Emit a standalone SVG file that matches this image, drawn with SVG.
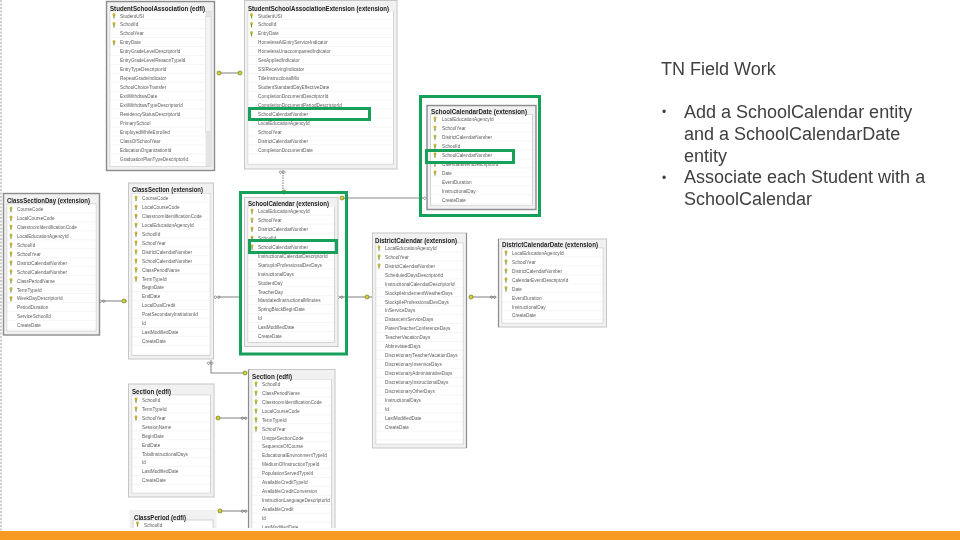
<svg xmlns="http://www.w3.org/2000/svg" width="960" height="540" viewBox="0 0 960 540">
<style>
text{font-family:"Liberation Sans",Arial,sans-serif}
.o{fill:#f1f1f1;stroke:#c6c6c6;stroke-width:1}
.d{fill:#f1f1f1;stroke:#8c8c8c;stroke-width:1.4}
.l{fill:#fff;stroke:#c4c4c4;stroke-width:.7}
.t{font-size:7px;font-weight:700;fill:#222}
.r{font-size:4.7px;fill:#5c5c5c}
.c{fill:none;stroke:#8a8a8a;stroke-width:1.1}
.g{fill:none;stroke:#16a05a;stroke-width:3}
.s{font-size:18px;fill:#404040}
.b{font-size:12px;fill:#404040}
</style>
<defs>
<pattern id="rows" patternUnits="userSpaceOnUse" width="10" height="8.95"><rect width="10" height="8.95" fill="#fff"/><rect y="8.4" width="10" height=".55" fill="#efefef"/></pattern>
<g id="k"><circle cx="0" cy="-1.2" r="1.5" fill="#c9b93c"/><path d="M-.6-.5h1.2v3.2h-1.2z" fill="#7f8f2f"/></g>
<g id="e"><circle r="2" fill="#d6d235" stroke="#6f7a20" stroke-width=".7"/></g>
<g id="m"><path d="M-2.5-1a1.2 1.2 0 1 0 .01 0zM.7-1a1.2 1.2 0 1 0 .01 0z" fill="none" stroke="#666" stroke-width=".7"/></g>
<filter id="soft" filterUnits="userSpaceOnUse" x="0" y="0" width="640" height="540"><feGaussianBlur stdDeviation=".38"/></filter>
</defs>
<rect width="960" height="540" fill="#fff"/>
<path d="M1 0V540" fill="none" stroke="#9a9a9a" stroke-width="1" stroke-dasharray="2 1.5"/>
<g filter="url(#soft)">
<g id="connectors">
<path class="c" d="M219 73H240"/><use href="#e" x="219" y="73"/><use href="#e" x="240" y="73"/>
<path class="c" d="M283 170V192" stroke-dasharray="1.5 1"/><use href="#m" x="283" y="172"/><use href="#e" x="284" y="192"/>
<path class="c" d="M341 198H420"/><use href="#e" x="342" y="198"/><use href="#m" x="424" y="198"/>
<path class="c" d="M340 297H372"/><use href="#m" x="341" y="297"/><use href="#e" x="367" y="297"/>
<path class="c" d="M470 297H496"/><use href="#e" x="471" y="297"/><use href="#m" x="494" y="297"/>
<path class="c" d="M102 301H127"/><use href="#m" x="103" y="301"/><use href="#e" x="124" y="301"/>
<path class="c" d="M218 297H240"/><use href="#m" x="218" y="297"/>
<path class="c" d="M211 360V373H246"/><use href="#m" x="211" y="363"/><use href="#e" x="245" y="373"/>
<path class="c" d="M216 418H247"/><use href="#e" x="218" y="418"/><use href="#m" x="245" y="418"/>
<path class="c" d="M218 511H247"/><use href="#e" x="220" y="511"/><use href="#m" x="245" y="511"/>
</g>
<g id="node-student-school-association" transform="translate(106.5,1.5)">
<rect class="d" width="108" height="169"/><rect class="l" x="3.5" y="10" width="101" height="155"/>
<rect transform="translate(4,9.7)" width="94" height="155" fill="url(#rows)"/>
<rect x="99" y="10" width="5.5" height="155" fill="#e4e4e4"/><rect x="99" y="15" width="5.5" height="115" fill="#f4f4f4" stroke="#ccc" stroke-width=".4"/>
<text class="t" x="3.5" y="9.3" textLength="95" lengthAdjust="spacingAndGlyphs">StudentSchoolAssociation (edfi)</text>
<use href="#k" x="7.5" y="14.2"/><use href="#k" x="7.5" y="23.2"/><use href="#k" x="7.5" y="41.1"/>
<text class="r" y="16"><tspan x="13.5">StudentUSI</tspan><tspan x="13.5" dy="8.95">SchoolId</tspan><tspan x="13.5" dy="8.95">SchoolYear</tspan><tspan x="13.5" dy="8.95">EntryDate</tspan><tspan x="13.5" dy="8.95">EntryGradeLevelDescriptorId</tspan><tspan x="13.5" dy="8.95">EntryGradeLevelReasonTypeId</tspan><tspan x="13.5" dy="8.95">EntryTypeDescriptorId</tspan><tspan x="13.5" dy="8.95">RepeatGradeIndicator</tspan><tspan x="13.5" dy="8.95">SchoolChoiceTransfer</tspan><tspan x="13.5" dy="8.95">ExitWithdrawDate</tspan><tspan x="13.5" dy="8.95">ExitWithdrawTypeDescriptorId</tspan><tspan x="13.5" dy="8.95">ResidencyStatusDescriptorId</tspan><tspan x="13.5" dy="8.95">PrimarySchool</tspan><tspan x="13.5" dy="8.95">EmployedWhileEnrolled</tspan><tspan x="13.5" dy="8.95">ClassOfSchoolYear</tspan><tspan x="13.5" dy="8.95">EducationOrganizationId</tspan><tspan x="13.5" dy="8.95">GraduationPlanTypeDescriptorId</tspan></text>
</g>
<g id="node-student-school-association-extension" transform="translate(244.5,.5)">
<rect class="o" width="152.5" height="168.5"/><rect class="l" x="3.5" y="11" width="145.5" height="153"/>
<rect transform="translate(4,10.7)" width="144.5" height="153" fill="url(#rows)"/>
<text class="t" x="3.5" y="10.3" textLength="141" lengthAdjust="spacingAndGlyphs">StudentSchoolAssociationExtension (extension)</text>
<use href="#k" x="7" y="15.2"/><use href="#k" x="7" y="24.2"/><use href="#k" x="7" y="33.1"/>
<text class="r" y="17"><tspan x="13.5">StudentUSI</tspan><tspan x="13.5" dy="8.95">SchoolId</tspan><tspan x="13.5" dy="8.95">EntryDate</tspan><tspan x="13.5" dy="8.95">HomelessAtEntryServiceIndicator</tspan><tspan x="13.5" dy="8.95">HomelessUnaccompaniedIndicator</tspan><tspan x="13.5" dy="8.95">SexAppliedIndicator</tspan><tspan x="13.5" dy="8.95">SSIReceivingIndicator</tspan><tspan x="13.5" dy="8.95">TitleInstructionalMix</tspan><tspan x="13.5" dy="8.95">StudentStandardDayEffectiveDate</tspan><tspan x="13.5" dy="8.95">CompletionDocumentDescriptorId</tspan><tspan x="13.5" dy="8.95">CompletionDocumentPeriodDescriptorId</tspan><tspan x="13.5" dy="8.95">SchoolCalendarNumber</tspan><tspan x="13.5" dy="8.95">LocalEducationAgencyId</tspan><tspan x="13.5" dy="8.95">SchoolYear</tspan><tspan x="13.5" dy="8.95">DistrictCalendarNumber</tspan><tspan x="13.5" dy="8.95">CompletionDocumentDate</tspan></text>
</g>
<g id="node-school-calendar-date" transform="translate(427,105.5)">
<rect class="d" width="109" height="104"/><rect class="l" x="3.5" y="9" width="102" height="91"/>
<rect transform="translate(4,9.2)" width="101" height="90.5" fill="url(#rows)"/>
<text class="t" x="4" y="8.3" textLength="96" lengthAdjust="spacingAndGlyphs">SchoolCalendarDate (extension)</text>
<use href="#k" x="8" y="13.7"/><use href="#k" x="8" y="22.7"/><use href="#k" x="8" y="31.6"/><use href="#k" x="8" y="40.6"/><use href="#k" x="8" y="49.5"/><use href="#k" x="8" y="58.5"/><use href="#k" x="8" y="67.4"/>
<text class="r" y="15.5"><tspan x="15">LocalEducationAgencyId</tspan><tspan x="15" dy="8.95">SchoolYear</tspan><tspan x="15" dy="8.95">DistrictCalendarNumber</tspan><tspan x="15" dy="8.95">SchoolId</tspan><tspan x="15" dy="8.95">SchoolCalendarNumber</tspan><tspan x="15" dy="8.95">CalendarEventDescriptorId</tspan><tspan x="15" dy="8.95">Date</tspan><tspan x="15" dy="8.95">EventDuration</tspan><tspan x="15" dy="8.95">InstructionalDay</tspan><tspan x="15" dy="8.95">CreateDate</tspan></text>
</g>
<g id="node-class-section-day" transform="translate(3.5,193.5)">
<rect class="d" width="96" height="141.5"/><rect class="l" x="3.5" y="10.5" width="89" height="127"/>
<rect transform="translate(4,11)" width="88" height="126" fill="url(#rows)"/>
<text class="t" x="3.5" y="9.3" textLength="83" lengthAdjust="spacingAndGlyphs">ClassSectionDay (extension)</text>
<use href="#k" x="7.5" y="15.7"/><use href="#k" x="7.5" y="24.7"/><use href="#k" x="7.5" y="33.6"/><use href="#k" x="7.5" y="42.6"/><use href="#k" x="7.5" y="51.5"/><use href="#k" x="7.5" y="60.5"/><use href="#k" x="7.5" y="69.4"/><use href="#k" x="7.5" y="78.4"/><use href="#k" x="7.5" y="87.3"/><use href="#k" x="7.5" y="96.3"/><use href="#k" x="7.5" y="105.2"/>
<text class="r" y="17.5"><tspan x="13.5">CourseCode</tspan><tspan x="13.5" dy="8.95">LocalCourseCode</tspan><tspan x="13.5" dy="8.95">ClassroomIdentificationCode</tspan><tspan x="13.5" dy="8.95">LocalEducationAgencyId</tspan><tspan x="13.5" dy="8.95">SchoolId</tspan><tspan x="13.5" dy="8.95">SchoolYear</tspan><tspan x="13.5" dy="8.95">DistrictCalendarNumber</tspan><tspan x="13.5" dy="8.95">SchoolCalendarNumber</tspan><tspan x="13.5" dy="8.95">ClassPeriodName</tspan><tspan x="13.5" dy="8.95">TermTypeId</tspan><tspan x="13.5" dy="8.95">WeekDayDescriptorId</tspan><tspan x="13.5" dy="8.95">PeriodDuration</tspan><tspan x="13.5" dy="8.95">ServiceSchoolId</tspan><tspan x="13.5" dy="8.95">CreateDate</tspan></text>
</g>
<g id="node-class-section" transform="translate(128.5,183)">
<rect class="o" width="85" height="176"/><rect class="l" x="3.5" y="10.5" width="78" height="162"/>
<rect transform="translate(4,10.6)" width="77" height="161" fill="url(#rows)"/>
<text class="t" x="3.5" y="9.3" textLength="71" lengthAdjust="spacingAndGlyphs">ClassSection (extension)</text>
<use href="#k" x="7.5" y="15.2"/><use href="#k" x="7.5" y="24.2"/><use href="#k" x="7.5" y="33.1"/><use href="#k" x="7.5" y="42.1"/><use href="#k" x="7.5" y="51"/><use href="#k" x="7.5" y="60"/><use href="#k" x="7.5" y="68.9"/><use href="#k" x="7.5" y="77.9"/><use href="#k" x="7.5" y="86.8"/><use href="#k" x="7.5" y="95.8"/>
<text class="r" y="17"><tspan x="13.5">CourseCode</tspan><tspan x="13.5" dy="8.95">LocalCourseCode</tspan><tspan x="13.5" dy="8.95">ClassroomIdentificationCode</tspan><tspan x="13.5" dy="8.95">LocalEducationAgencyId</tspan><tspan x="13.5" dy="8.95">SchoolId</tspan><tspan x="13.5" dy="8.95">SchoolYear</tspan><tspan x="13.5" dy="8.95">DistrictCalendarNumber</tspan><tspan x="13.5" dy="8.95">SchoolCalendarNumber</tspan><tspan x="13.5" dy="8.95">ClassPeriodName</tspan><tspan x="13.5" dy="8.95">TermTypeId</tspan><tspan x="13.5" dy="8.95">BeginDate</tspan><tspan x="13.5" dy="8.95">EndDate</tspan><tspan x="13.5" dy="8.95">LocalDualCredit</tspan><tspan x="13.5" dy="8.95">PostSecondaryInstitutionId</tspan><tspan x="13.5" dy="8.95">Id</tspan><tspan x="13.5" dy="8.95">LastModifiedDate</tspan><tspan x="13.5" dy="8.95">CreateDate</tspan></text>
</g>
<g id="node-school-calendar" transform="translate(244.5,197.5)">
<rect class="o" width="93.5" height="149"/><rect class="l" x="3.5" y="10" width="86.5" height="135"/>
<rect transform="translate(4,9.2)" width="85.5" height="135" fill="url(#rows)"/>
<text class="t" x="3.5" y="8.8" textLength="81" lengthAdjust="spacingAndGlyphs">SchoolCalendar (extension)</text>
<use href="#k" x="7.5" y="13.7"/><use href="#k" x="7.5" y="22.7"/><use href="#k" x="7.5" y="31.6"/><use href="#k" x="7.5" y="40.6"/><use href="#k" x="7.5" y="49.5"/>
<text class="r" y="15.5"><tspan x="13.5">LocalEducationAgencyId</tspan><tspan x="13.5" dy="8.95">SchoolYear</tspan><tspan x="13.5" dy="8.95">DistrictCalendarNumber</tspan><tspan x="13.5" dy="8.95">SchoolId</tspan><tspan x="13.5" dy="8.95">SchoolCalendarNumber</tspan><tspan x="13.5" dy="8.95">InstructionalCalendarDescriptorId</tspan><tspan x="13.5" dy="8.95">StartupInProfessionalDevDays</tspan><tspan x="13.5" dy="8.95">InstructionalDays</tspan><tspan x="13.5" dy="8.95">StudentDay</tspan><tspan x="13.5" dy="8.95">TeacherDay</tspan><tspan x="13.5" dy="8.95">MandatedInstructionalMinutes</tspan><tspan x="13.5" dy="8.95">SpringBlockBeginDate</tspan><tspan x="13.5" dy="8.95">Id</tspan><tspan x="13.5" dy="8.95">LastModifiedDate</tspan><tspan x="13.5" dy="8.95">CreateDate</tspan></text>
</g>
<g id="node-district-calendar" transform="translate(372.5,233)">
<rect class="o" width="94" height="215"/><rect class="l" x="3.5" y="10" width="87" height="201"/>
<rect transform="translate(4,10.5)" width="86" height="200" fill="url(#rows)"/>
<path d="M94 0V215" fill="none" stroke="#8c8c8c" stroke-width="1.2"/>
<text class="t" x="2.5" y="9.8" textLength="82" lengthAdjust="spacingAndGlyphs">DistrictCalendar (extension)</text>
<use href="#k" x="6.5" y="15"/><use href="#k" x="6.5" y="24"/><use href="#k" x="6.5" y="32.9"/>
<text class="r" y="16.8"><tspan x="12.5">LocalEducationAgencyId</tspan><tspan x="12.5" dy="8.95">SchoolYear</tspan><tspan x="12.5" dy="8.95">DistrictCalendarNumber</tspan><tspan x="12.5" dy="8.95">ScheduledDaysDescriptorId</tspan><tspan x="12.5" dy="8.95">InstructionalCalendarDescriptorId</tspan><tspan x="12.5" dy="8.95">StockpileInclementWeatherDays</tspan><tspan x="12.5" dy="8.95">StockpileProfessionalDevDays</tspan><tspan x="12.5" dy="8.95">InServiceDays</tspan><tspan x="12.5" dy="8.95">DistanceInServiceDays</tspan><tspan x="12.5" dy="8.95">ParentTeacherConferenceDays</tspan><tspan x="12.5" dy="8.95">TeacherVacationDays</tspan><tspan x="12.5" dy="8.95">AbbreviatedDays</tspan><tspan x="12.5" dy="8.95">DiscretionaryTeacherVacationDays</tspan><tspan x="12.5" dy="8.95">DiscretionaryInserviceDays</tspan><tspan x="12.5" dy="8.95">DiscretionaryAdministrativeDays</tspan><tspan x="12.5" dy="8.95">DiscretionaryInstructionalDays</tspan><tspan x="12.5" dy="8.95">DiscretionaryOtherDays</tspan><tspan x="12.5" dy="8.95">InstructionalDays</tspan><tspan x="12.5" dy="8.95">Id</tspan><tspan x="12.5" dy="8.95">LastModifiedDate</tspan><tspan x="12.5" dy="8.95">CreateDate</tspan></text>
</g>
<g id="node-district-calendar-date" transform="translate(498.5,239)">
<rect class="o" width="108" height="88"/><rect class="l" x="3.5" y="9" width="101" height="75"/>
<rect transform="translate(4,9.5)" width="100" height="74" fill="url(#rows)"/>
<path d="M0 0V88" fill="none" stroke="#8c8c8c" stroke-width="1.2"/>
<text class="t" x="3.5" y="8.3" textLength="96" lengthAdjust="spacingAndGlyphs">DistrictCalendarDate (extension)</text>
<use href="#k" x="7.5" y="14"/><use href="#k" x="7.5" y="23"/><use href="#k" x="7.5" y="31.9"/><use href="#k" x="7.5" y="40.9"/><use href="#k" x="7.5" y="49.8"/>
<text class="r" y="15.8"><tspan x="13.5">LocalEducationAgencyId</tspan><tspan x="13.5" dy="8.95">SchoolYear</tspan><tspan x="13.5" dy="8.95">DistrictCalendarNumber</tspan><tspan x="13.5" dy="8.95">CalendarEventDescriptorId</tspan><tspan x="13.5" dy="8.95">Date</tspan><tspan x="13.5" dy="8.95">EventDuration</tspan><tspan x="13.5" dy="8.95">InstructionalDay</tspan><tspan x="13.5" dy="8.95">CreateDate</tspan></text>
</g>
<g id="node-section-left" transform="translate(128.5,384)">
<rect class="o" width="85.5" height="113"/><rect class="l" x="3.5" y="11" width="78.5" height="98"/>
<rect transform="translate(4,11.5)" width="77.5" height="97" fill="url(#rows)"/>
<text class="t" x="3.5" y="10" textLength="39" lengthAdjust="spacingAndGlyphs">Section (edfi)</text>
<use href="#k" x="7.5" y="16"/><use href="#k" x="7.5" y="25"/><use href="#k" x="7.5" y="33.9"/>
<text class="r" y="17.8"><tspan x="13.5">SchoolId</tspan><tspan x="13.5" dy="8.95">TermTypeId</tspan><tspan x="13.5" dy="8.95">SchoolYear</tspan><tspan x="13.5" dy="8.95">SessionName</tspan><tspan x="13.5" dy="8.95">BeginDate</tspan><tspan x="13.5" dy="8.95">EndDate</tspan><tspan x="13.5" dy="8.95">TotalInstructionalDays</tspan><tspan x="13.5" dy="8.95">Id</tspan><tspan x="13.5" dy="8.95">LastModifiedDate</tspan><tspan x="13.5" dy="8.95">CreateDate</tspan></text>
</g>
<g id="node-section-right" transform="translate(248.5,369.5)">
<rect class="o" width="86.5" height="175"/><rect class="l" x="3.5" y="10" width="79.5" height="170"/>
<rect transform="translate(4,10)" width="78.5" height="165" fill="url(#rows)"/>
<path d="M0 0V175" fill="none" stroke="#8c8c8c" stroke-width="1.2"/>
<text class="t" x="3.5" y="9.8" textLength="40" lengthAdjust="spacingAndGlyphs">Section (edfi)</text>
<use href="#k" x="7.5" y="14.5"/><use href="#k" x="7.5" y="23.5"/><use href="#k" x="7.5" y="32.4"/><use href="#k" x="7.5" y="41.4"/><use href="#k" x="7.5" y="50.3"/><use href="#k" x="7.5" y="59.3"/>
<text class="r" y="16.3"><tspan x="13.5">SchoolId</tspan><tspan x="13.5" dy="8.95">ClassPeriodName</tspan><tspan x="13.5" dy="8.95">ClassroomIdentificationCode</tspan><tspan x="13.5" dy="8.95">LocalCourseCode</tspan><tspan x="13.5" dy="8.95">TermTypeId</tspan><tspan x="13.5" dy="8.95">SchoolYear</tspan><tspan x="13.5" dy="8.95">UniqueSectionCode</tspan><tspan x="13.5" dy="8.95">SequenceOfCourse</tspan><tspan x="13.5" dy="8.95">EducationalEnvironmentTypeId</tspan><tspan x="13.5" dy="8.95">MediumOfInstructionTypeId</tspan><tspan x="13.5" dy="8.95">PopulationServedTypeId</tspan><tspan x="13.5" dy="8.95">AvailableCreditTypeId</tspan><tspan x="13.5" dy="8.95">AvailableCreditConversion</tspan><tspan x="13.5" dy="8.95">InstructionLanguageDescriptorId</tspan><tspan x="13.5" dy="8.95">AvailableCredit</tspan><tspan x="13.5" dy="8.95">Id</tspan><tspan x="13.5" dy="8.95">LastModifiedDate</tspan></text>
</g>
<g id="node-class-period" transform="translate(129.5,510)">
<rect x="0" y="0" width="87" height="30" fill="#f1f1f1"/><rect class="l" x="3.5" y="10" width="80" height="30"/>
<text class="t" x="4.5" y="9.5" textLength="52" lengthAdjust="spacingAndGlyphs">ClassPeriod (edfi)</text>
<use href="#k" x="8" y="14"/>
<text class="r" x="14.5" y="16.5">SchoolId</text>
</g>
<g id="highlights">
<rect class="g" x="249.5" y="108.5" width="120" height="11"/>
<rect class="g" x="420.5" y="96.5" width="119" height="119"/>
<rect class="g" x="426.5" y="150.5" width="87" height="12"/>
<rect class="g" x="240.5" y="192.5" width="106" height="161.5"/>
<rect class="g" x="249.5" y="240.5" width="87" height="12"/>
</g>
</g>
<rect x="2" y="528" width="958" height="3" fill="#fff"/>
<rect id="footer-bar" x="0" y="531" width="960" height="9" fill="#f79a22"/>
<g id="notes">
<text class="s" x="661" y="75">TN Field Work</text>
<text class="b" x="662" y="116.4">•</text><text class="s" x="684" y="118">Add a SchoolCalendar entity</text>
<text class="s" x="684" y="140">and a SchoolCalendarDate</text>
<text class="s" x="684" y="162">entity</text>
<text class="b" x="662" y="182">•</text><text class="s" x="684" y="183">Associate each Student with a</text>
<text class="s" x="684" y="205">SchoolCalendar</text>
</g>
</svg>
